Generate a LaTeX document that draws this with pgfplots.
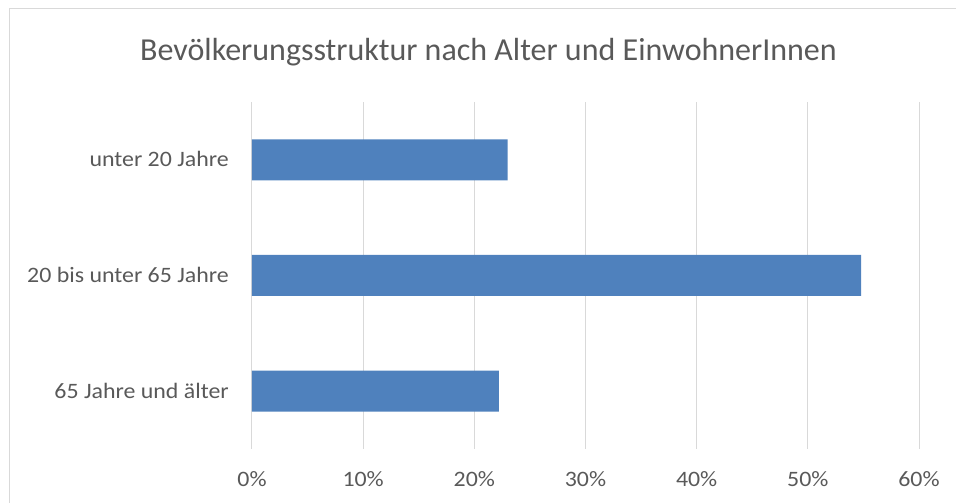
\documentclass[border=0pt]{standalone}
\usepackage{fontspec}
\setmainfont{Carlito}
\newfontfamily\lblfont{Carlito}[FakeStretch=1.085]
\usepackage{pgfplots}
\pgfplotsset{compat=1.18}

\definecolor{barblue}{HTML}{4F81BD}
\definecolor{txtgray}{HTML}{595959}
\definecolor{gridgray}{HTML}{D9D9D9}

\begin{document}
\begin{tikzpicture}[x=1pt,y=1pt]
\path[use as bounding box] (0,0) rectangle (956,503);
% chart frame (right and bottom edge are cut off in the reference)
\draw[gridgray, line width=1pt] (9,0) -- (9,494) -- (956,494);
\node[anchor=base, text=txtgray, font=\fontsize{32}{38}\selectfont]
  at (488.5,442) {Bevölkerungsstruktur nach Alter und EinwohnerInnen};
\begin{axis}[
  at={(252pt,54pt)}, anchor=south west,
  scale only axis, width=667pt, height=347pt,
  xbar, bar width=41pt,
  xmin=0, xmax=60, ymin=-0.5, ymax=2.5,
  xtick={0,10,20,30,40,50,60},
  xticklabels={0\%,10\%,20\%,30\%,40\%,50\%,60\%},
  ytick={0,1,2},
  yticklabels={65 Jahre und älter,20 bis unter 65 Jahre,unter 20 Jahre},
  xmajorgrids, major grid style={gridgray, line width=1pt},
  axis line style={draw=none}, tick style={draw=none},
  major tick length=0pt,
  tick label style={text=txtgray, font=\lblfont\fontsize{22}{26}\selectfont},
  xticklabel style={anchor=base, inner sep=0pt, yshift=-38pt},
  yticklabel style={anchor=base east, inner sep=0pt, xshift=-23pt, yshift=-7pt},
  clip=false,
]
\addplot[fill=barblue, draw=none] coordinates {
  (22.2,0) (54.8,1) (23.0,2)};
\end{axis}
\end{tikzpicture}
\end{document}
